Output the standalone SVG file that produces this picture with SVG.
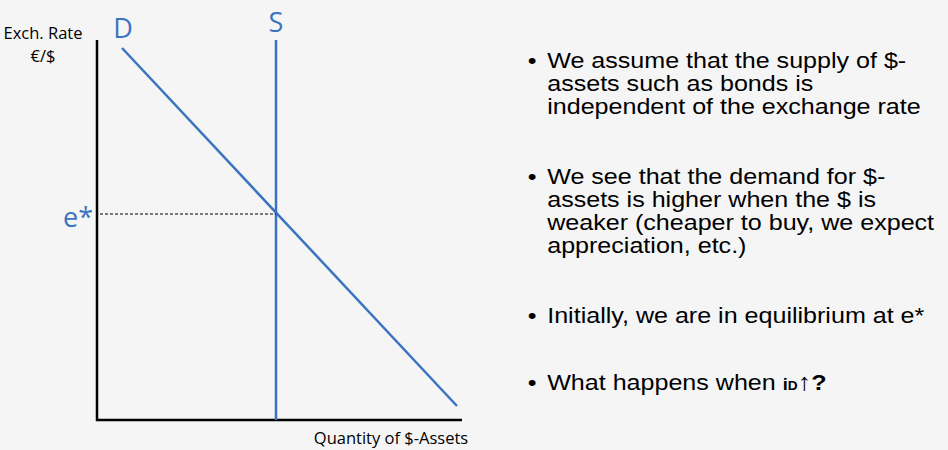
<svg xmlns="http://www.w3.org/2000/svg" width="948" height="450" viewBox="0 0 948 450">
<style>
.lab{font-family:"Open Sans","Liberation Sans",sans-serif;font-size:16.5px;fill:#000}
.blue{font-family:"Open Sans","Liberation Sans",sans-serif;font-size:27px;fill:#3a73c0}
.b{font-family:"Liberation Sans",Arial,sans-serif;font-size:22px;fill:#000}
.c{stroke:#3a73c0;stroke-width:2.5;fill:none}
</style>
<rect width="948" height="450" fill="#f5f5f5"/>
<g id="axes" stroke="#000" stroke-width="2.5" fill="none">
<line x1="97" y1="40" x2="97" y2="421"/>
<line x1="96" y1="420" x2="462" y2="420"/>
</g>
<g id="connectors">
<line class="c" x1="122" y1="48" x2="457" y2="406"/>
<line class="c" x1="276" y1="40" x2="276" y2="420"/>
<line x1="100" y1="214" x2="276" y2="214" stroke="#000" stroke-width="1" stroke-dasharray="3,2"/>
</g>
<g id="labels">
<text class="lab" x="43" y="39" text-anchor="middle">Exch. Rate</text>
<text class="lab" x="43" y="62" text-anchor="middle">€/$</text>
<text class="blue" x="123" y="38" text-anchor="middle">D</text>
<text class="blue" x="276" y="32" text-anchor="middle">S</text>
<text class="blue" x="78" y="227" text-anchor="middle">e*</text>
<text class="lab" x="391" y="444" text-anchor="middle">Quantity of $-Assets</text>
</g>
<g id="bullets" class="b" transform="scale(1.14,1)">
<text x="463" y="68">•</text><text x="480" y="68">We assume that the supply of $-</text>
<text x="480" y="91">assets such as bonds is</text>
<text x="480" y="114">independent of the exchange rate</text>
<text x="463" y="184">•</text><text x="480" y="184">We see that the demand for $-</text>
<text x="480" y="207">assets is higher when the $ is</text>
<text x="480" y="230">weaker (cheaper to buy, we expect</text>
<text x="480" y="253">appreciation, etc.)</text>
<text x="463" y="323">•</text><text x="480" y="323">Initially, we are in equilibrium at e*</text>
<text x="463" y="390">•</text><text x="480" y="390">What happens when <tspan font-weight="bold" font-size="16">i</tspan><tspan font-weight="bold" font-size="12">D</tspan><tspan font-weight="bold" font-size="24">↑</tspan><tspan font-weight="bold">?</tspan></text>
</g>
</svg>
